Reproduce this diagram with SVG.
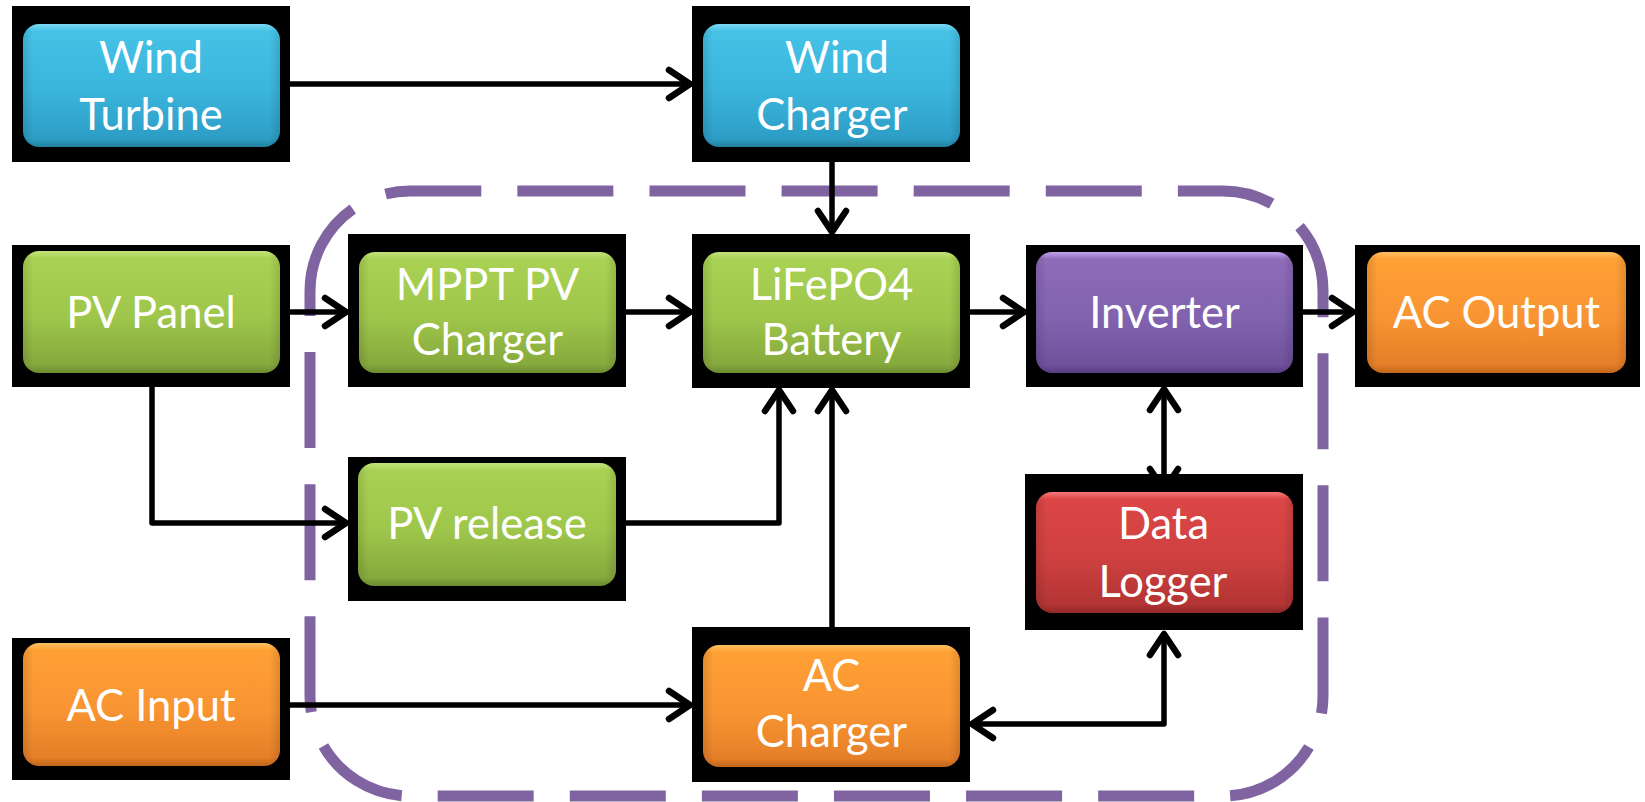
<svg xmlns="http://www.w3.org/2000/svg" width="1645" height="802" viewBox="0 0 1645 802">
  <style>
    .frame { fill: #000000; }
    .label { font-family: Lato, "Open Sans", "Liberation Sans", sans-serif; font-size: 43.5px; fill: #ffffff; text-anchor: middle; }
    .wire { fill: none; stroke: #000000; stroke-width: 5.5; stroke-linejoin: round; }
    .boundary { fill: none; stroke: #8064A2; stroke-width: 11; stroke-dasharray: 96 36.1; }
    .gloss { fill: url(#gloss); }
  </style>
  <defs>
    <linearGradient id="gBlue" x1="0" y1="0" x2="0" y2="1">
      <stop offset="0" stop-color="#7DD8F2"/>
      <stop offset="0.06" stop-color="#45C2E6"/>
      <stop offset="0.55" stop-color="#3AB4DC"/>
      <stop offset="0.93" stop-color="#2D9EC6"/>
      <stop offset="1" stop-color="#23809F"/>
    </linearGradient>
    <linearGradient id="gGreen" x1="0" y1="0" x2="0" y2="1">
      <stop offset="0" stop-color="#C3E27A"/>
      <stop offset="0.06" stop-color="#A9D255"/>
      <stop offset="0.55" stop-color="#9DC64A"/>
      <stop offset="0.93" stop-color="#86A93D"/>
      <stop offset="1" stop-color="#6B8A2F"/>
    </linearGradient>
    <linearGradient id="gOrange" x1="0" y1="0" x2="0" y2="1">
      <stop offset="0" stop-color="#FFC060"/>
      <stop offset="0.06" stop-color="#FFA035"/>
      <stop offset="0.55" stop-color="#F89432"/>
      <stop offset="0.93" stop-color="#E57F28"/>
      <stop offset="1" stop-color="#C0661C"/>
    </linearGradient>
    <linearGradient id="gPurple" x1="0" y1="0" x2="0" y2="1">
      <stop offset="0" stop-color="#C3A4EC"/>
      <stop offset="0.06" stop-color="#8E6CBA"/>
      <stop offset="0.55" stop-color="#8062AE"/>
      <stop offset="0.93" stop-color="#6F519C"/>
      <stop offset="1" stop-color="#573D80"/>
    </linearGradient>
    <linearGradient id="gRed" x1="0" y1="0" x2="0" y2="1">
      <stop offset="0" stop-color="#F47A78"/>
      <stop offset="0.06" stop-color="#DC4646"/>
      <stop offset="0.55" stop-color="#CE4040"/>
      <stop offset="0.93" stop-color="#B33434"/>
      <stop offset="1" stop-color="#8E2828"/>
    </linearGradient>
    <linearGradient id="gloss" x1="0" y1="0" x2="1" y2="0">
      <stop offset="0" stop-color="#000000" stop-opacity="0.12"/>
      <stop offset="0.04" stop-color="#000000" stop-opacity="0"/>
      <stop offset="0.96" stop-color="#000000" stop-opacity="0"/>
      <stop offset="1" stop-color="#000000" stop-opacity="0.12"/>
    </linearGradient>
    <marker id="arrow" markerUnits="userSpaceOnUse" viewBox="-30 -20 40 40" markerWidth="40" markerHeight="40" refX="0" refY="0" orient="auto-start-reverse">
      <path d="M -21 -14 L 0 0 L -21 14" fill="none" stroke="#000000" stroke-width="6.5" stroke-linecap="round" stroke-linejoin="round"/>
    </marker>
  </defs>

  <rect width="1645" height="802" fill="#ffffff"/>

  <!-- system boundary -->
  <path class="boundary" d="M 310 291 A 100 100 0 0 1 410 191 H 1223 A 100 100 0 0 1 1323 291 V 696 A 100 100 0 0 1 1223 796 H 410 A 100 100 0 0 1 310 696 Z"/>

  <!-- connectors -->
  <g id="connectors">
    <path class="wire" d="M 280 84 H 690" marker-end="url(#arrow)"/>
    <path class="wire" d="M 832 147 V 232" marker-end="url(#arrow)"/>
    <path class="wire" d="M 280 312 H 346" marker-end="url(#arrow)"/>
    <path class="wire" d="M 616 312 H 690" marker-end="url(#arrow)"/>
    <path class="wire" d="M 960 312 H 1024" marker-end="url(#arrow)"/>
    <path class="wire" d="M 1293 312 H 1353" marker-end="url(#arrow)"/>
    <path class="wire" d="M 152 373 V 523 H 346" marker-end="url(#arrow)"/>
    <path class="wire" d="M 616 523 H 779 V 390" marker-end="url(#arrow)"/>
    <path class="wire" d="M 832 645 V 390" marker-end="url(#arrow)"/>
    <path class="wire" d="M 280 705 H 690" marker-end="url(#arrow)"/>
    <path class="wire" d="M 1164 634 V 724 H 972" marker-start="url(#arrow)" marker-end="url(#arrow)"/>
    <path class="wire" d="M 1164 389 V 490" marker-start="url(#arrow)" marker-end="url(#arrow)"/>
  </g>

  <!-- nodes -->
  <g id="wind-turbine">
    <rect class="frame" x="12" y="6" width="278" height="156"/>
    <rect x="23" y="24" width="257" height="123" rx="16" fill="url(#gBlue)"/>
    <rect class="gloss" x="23" y="24" width="257" height="123" rx="16"/>
    <text class="label" x="151" y="73">Wind</text>
    <text class="label" x="151" y="130">Turbine</text>
  </g>

  <g id="wind-charger">
    <rect class="frame" x="692" y="6" width="278" height="156"/>
    <rect x="703" y="24" width="257" height="123" rx="16" fill="url(#gBlue)"/>
    <rect class="gloss" x="703" y="24" width="257" height="123" rx="16"/>
    <text class="label" x="837" y="73">Wind</text>
    <text class="label" x="832" y="130">Charger</text>
  </g>

  <g id="pv-panel">
    <rect class="frame" x="12" y="245" width="278" height="142"/>
    <rect x="23" y="251" width="257" height="122" rx="16" fill="url(#gGreen)"/>
    <rect class="gloss" x="23" y="251" width="257" height="122" rx="16"/>
    <text class="label" x="151" y="328">PV Panel</text>
  </g>

  <g id="mppt-pv-charger">
    <rect class="frame" x="348" y="234" width="278" height="153"/>
    <rect x="359" y="252" width="257" height="121" rx="16" fill="url(#gGreen)"/>
    <rect class="gloss" x="359" y="252" width="257" height="121" rx="16"/>
    <text class="label" x="487.5" y="300">MPPT PV</text>
    <text class="label" x="487.5" y="355">Charger</text>
  </g>

  <g id="lifepo4-battery">
    <rect class="frame" x="692" y="234" width="278" height="154"/>
    <rect x="703" y="252" width="257" height="121" rx="16" fill="url(#gGreen)"/>
    <rect class="gloss" x="703" y="252" width="257" height="121" rx="16"/>
    <text class="label" x="831.5" y="300">LiFePO4</text>
    <text class="label" x="831.5" y="355">Battery</text>
  </g>

  <g id="inverter">
    <rect class="frame" x="1026" y="245" width="277" height="142"/>
    <rect x="1036" y="252" width="257" height="121" rx="16" fill="url(#gPurple)"/>
    <rect class="gloss" x="1036" y="252" width="257" height="121" rx="16"/>
    <text class="label" x="1164.5" y="328">Inverter</text>
  </g>

  <g id="ac-output">
    <rect class="frame" x="1355" y="245" width="285" height="142"/>
    <rect x="1367" y="252" width="259" height="121" rx="16" fill="url(#gOrange)"/>
    <rect class="gloss" x="1367" y="252" width="259" height="121" rx="16"/>
    <text class="label" x="1496.5" y="328">AC Output</text>
  </g>

  <g id="pv-release">
    <rect class="frame" x="348" y="457" width="278" height="144"/>
    <rect x="358" y="463" width="258" height="123" rx="16" fill="url(#gGreen)"/>
    <rect class="gloss" x="358" y="463" width="258" height="123" rx="16"/>
    <text class="label" x="487" y="539">PV release</text>
  </g>

  <g id="data-logger">
    <rect class="frame" x="1025" y="474" width="278" height="156"/>
    <rect x="1036" y="492" width="257" height="121" rx="16" fill="url(#gRed)"/>
    <rect class="gloss" x="1036" y="492" width="257" height="121" rx="16"/>
    <text class="label" x="1163.5" y="539">Data</text>
    <text class="label" x="1163" y="597">Logger</text>
  </g>

  <g id="ac-input">
    <rect class="frame" x="12" y="638" width="278" height="142"/>
    <rect x="23" y="643" width="257" height="123" rx="16" fill="url(#gOrange)"/>
    <rect class="gloss" x="23" y="643" width="257" height="123" rx="16"/>
    <text class="label" x="151" y="721">AC Input</text>
  </g>

  <g id="ac-charger">
    <rect class="frame" x="692" y="627" width="278" height="155"/>
    <rect x="703" y="645" width="257" height="122" rx="16" fill="url(#gOrange)"/>
    <rect class="gloss" x="703" y="645" width="257" height="122" rx="16"/>
    <text class="label" x="831.5" y="691">AC</text>
    <text class="label" x="831.5" y="747">Charger</text>
  </g>
</svg>
